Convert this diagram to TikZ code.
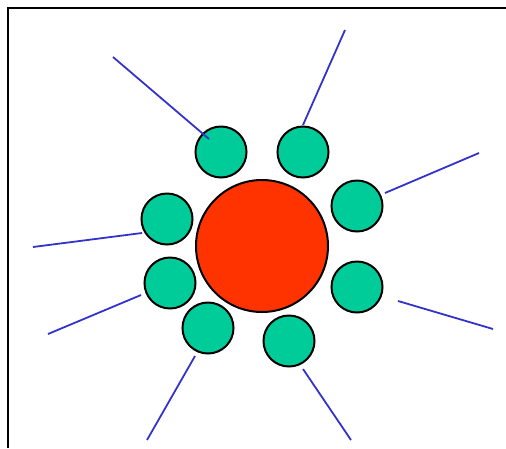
\documentclass[tikz,border=0pt]{standalone}
\definecolor{hubred}{HTML}{FF3300}
\definecolor{petal}{HTML}{00CC99}
\definecolor{spokeblue}{HTML}{3333CC}
\begin{document}
\begin{tikzpicture}[x=1pt,y=-1pt,
  hub/.style={circle,draw,line width=2pt,fill=hubred,minimum size=132pt,inner sep=0pt},
  sat/.style={circle,draw,line width=2pt,fill=petal,minimum size=51pt,inner sep=0pt},
  spoke/.style={spokeblue,line width=1.8pt}]
 \useasboundingbox (0,0) rectangle (506,448);
 \draw[line width=2.2pt] (8,448)--(8,8)--(506,8);
 \node[hub] (core) at (262,246) {};
 \node[sat] (s1) at (221,152) {};
 \node[sat] (s2) at (303,152) {};
 \node[sat] (s3) at (357,206) {};
 \node[sat] (s4) at (357,287) {};
 \node[sat] (s5) at (289,341) {};
 \node[sat] (s6) at (208,328) {};
 \node[sat] (s7) at (170,283) {};
 \node[sat] (s8) at (167,219) {};
 % outer ends of the spokes
 \coordinate (e1) at (113,57);
 \coordinate (e2) at (345,30);
 \coordinate (e3) at (479,153);
 \coordinate (e4) at (493,329);
 \coordinate (e5) at (351,440);
 \coordinate (e6) at (147,440);
 \coordinate (e7) at (48,334);
 \coordinate (e8) at (33,247);
 \draw[spoke] (e1)--([shift={(-12,-13)}]s1.center);
 \draw[spoke] (e2)--([shift={(0,-27)}]s2.center);
 \draw[spoke] (e3)--([shift={(28,-13)}]s3.center);
 \draw[spoke] (e4)--([shift={(41,14)}]s4.center);
 \draw[spoke] (e5)--([shift={(14,28)}]s5.center);
 \draw[spoke] (e6)--([shift={(-13,28)}]s6.center);
 \draw[spoke] (e7)--([shift={(-29,12)}]s7.center);
 \draw[spoke] (e8)--([shift={(-25,14)}]s8.center);
\end{tikzpicture}
\end{document}
